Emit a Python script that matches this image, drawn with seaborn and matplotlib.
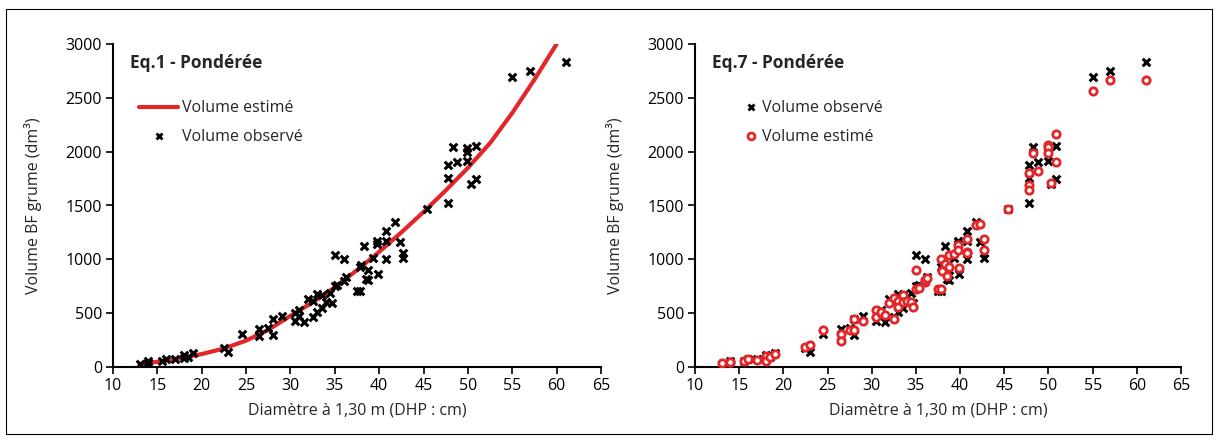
import matplotlib
matplotlib.use("Agg")
import matplotlib.pyplot as plt
from matplotlib.lines import Line2D
from matplotlib.patches import Rectangle
import seaborn as sns
import pandas as pd

# ---------------- data ----------------
dhp = [13.0, 14.0, 14.0, 15.5, 16.0, 17.0, 18.0, 18.0, 18.5, 19.0,
       22.5, 23.0, 24.5, 26.5, 26.5, 27.5, 28.0, 28.0, 29.0, 30.5,
       30.5, 31.0, 31.0, 31.5, 32.0, 32.5, 32.5, 33.0, 33.0, 33.5,
       33.5, 34.0, 34.5, 34.7, 35.0, 35.0, 35.3, 36.0, 36.0, 36.3,
       37.5, 37.8, 37.8, 38.0, 38.3, 38.5, 38.7, 38.7, 39.3, 39.8,
       39.8, 39.9, 40.8, 40.8, 40.8, 41.8, 42.3, 42.7, 42.7, 45.4,
       47.8, 47.8, 47.8, 48.3, 48.8, 49.9, 49.9, 49.9, 50.3, 50.9,
       50.9, 55.0, 57.0, 61.0]
vol_obs = [30, 55, 35, 60, 75, 75, 110, 85, 95, 130,
           180, 140, 310, 350, 290, 360, 450, 300, 470, 430,
           500, 530, 470, 420, 630, 460, 610, 680, 510, 670,
           550, 600, 690, 590, 1040, 750, 760, 1000, 800, 840,
           705, 705, 930, 950, 1120, 820, 810, 900, 1010, 1170,
           1140, 866, 1263, 1170, 1000, 1346, 1165, 1060, 1010, 1467,
           1873, 1758, 1526, 2042, 1906, 2030, 2000, 1913, 1697, 1743,
           2057, 2690, 2750, 2830]
vol_est7 = [35, 50, 45, 60, 70, 65, 105, 60, 90, 120,
            185, 205, 345, 310, 245, 340, 445, 340, 430, 525,
            460, 500, 510, 480, 590, 445, 640, 610, 560, 665,
            600, 610, 600, 560, 900, 720, 730, 790, 810, 830,
            720, 720, 1000, 890, 960, 845, 1040, 930, 1050, 1130,
            1085, 920, 1185, 1070, 1060, 1315, 1325, 1190, 1085, 1465,
            1800, 1690, 1645, 1990, 1820, 2060, 2040, 1990, 1708, 1900,
            2166, 2560, 2665, 2670]
# Eq.1 fitted curve
curve_d = [13, 15, 17.5, 20, 22.5, 25, 27.5, 30, 32.5, 35, 37.5, 40,
           42.5, 45, 47.5, 50, 52.5, 55, 57.5, 60]
curve_v = [28, 48, 80, 120, 172, 245, 345, 475, 600, 740, 900, 1070,
           1250, 1440, 1640, 1850, 2080, 2360, 2670, 3000]

titles = ["Eq.1 - Pondérée", "Eq.7 - Pondérée"]
x_ticks = [10, 15, 20, 25, 30, 35, 40, 45, 50, 55, 60, 65]
y_ticks = [0, 500, 1000, 1500, 2000, 2500, 3000]
xlabel = "Diamètre à 1,30 m (DHP : cm)"
ylabel = "Volume BF grume (dm³)"

obs = pd.DataFrame({"d": dhp, "obs": vol_obs, "est": vol_est7})
curve = pd.DataFrame({"d": curve_d, "v": curve_v})

# ---------------- style ----------------
sns.set_style("ticks")
plt.rcParams["font.family"] = ["Open Sans", "DejaVu Sans"]
RED = "#E3262A"

fig = plt.figure(figsize=(12.18, 4.40), dpi=100)
fig.patches.append(Rectangle((6 / 1218, 6 / 440), 1206 / 1218, 425 / 440,
                             transform=fig.transFigure, fill=False,
                             edgecolor="black", linewidth=0.8))

bottom = (440 - 367) / 440
height = (367 - 44) / 440
ax1 = fig.add_axes([113 / 1218, bottom, (601 - 113) / 1218, height])
ax2 = fig.add_axes([695 / 1218, bottom, (1181 - 695) / 1218, height])

xkw = dict(marker="x", s=30, color="black", linewidth=2.2)

# left panel
sns.lineplot(data=curve, x="d", y="v", ax=ax1, color=RED, linewidth=3.0,
             legend=False)
sns.scatterplot(data=obs, x="d", y="obs", ax=ax1, legend=False, zorder=3, **xkw)

# right panel
sns.scatterplot(data=obs, x="d", y="obs", ax=ax2, legend=False, zorder=3, **xkw)
sns.scatterplot(data=obs, x="d", y="est", ax=ax2, legend=False, zorder=4,
                marker="o", s=28, facecolor="white", edgecolor=RED,
                linewidth=2.0)

for ax, t in zip((ax1, ax2), titles):
    ax.set_xlim(10, 65)
    ax.set_ylim(0, 3000)
    ax.set_xticks(x_ticks)
    ax.set_yticks(y_ticks)
    ax.set_xlabel(xlabel, fontsize=11.5, labelpad=6)
    ax.set_ylabel(ylabel, fontsize=11.5, labelpad=17)
    ax.tick_params(axis="both", direction="out", length=5, width=1.2,
                   labelsize=11.5, colors="black", pad=3)
    for s in ("top", "right"):
        ax.spines[s].set_visible(False)
    for s in ("left", "bottom"):
        ax.spines[s].set_linewidth(1.5)
        ax.spines[s].set_color("black")
    ax.text(0.035, 0.94, t, transform=ax.transAxes, fontsize=12.5,
            fontweight="bold", va="center", ha="left")

h_line = Line2D([], [], color=RED, linewidth=3.0)
h_x = Line2D([], [], color="black", marker="x", linestyle="none",
             markersize=5, markeredgewidth=2.0)
h_o = Line2D([], [], color=RED, marker="o", linestyle="none", markersize=5,
             markerfacecolor="white", markeredgewidth=2.0)

leg1 = ax1.legend([h_line, h_x], ["Volume estimé", "Volume observé"],
                  loc="upper left", bbox_to_anchor=(0.036, 0.85),
                  frameon=False, fontsize=11.5, handlelength=2.5,
                  handletextpad=0.2, labelspacing=0.8, borderpad=0)
leg2 = ax2.legend([h_x, h_o], ["Volume observé", "Volume estimé"],
                  loc="upper left", bbox_to_anchor=(0.085, 0.85),
                  frameon=False, fontsize=11.5, handlelength=0.8,
                  handletextpad=0.3, labelspacing=0.8, borderpad=0)

fig.savefig("out.png", dpi=100)
